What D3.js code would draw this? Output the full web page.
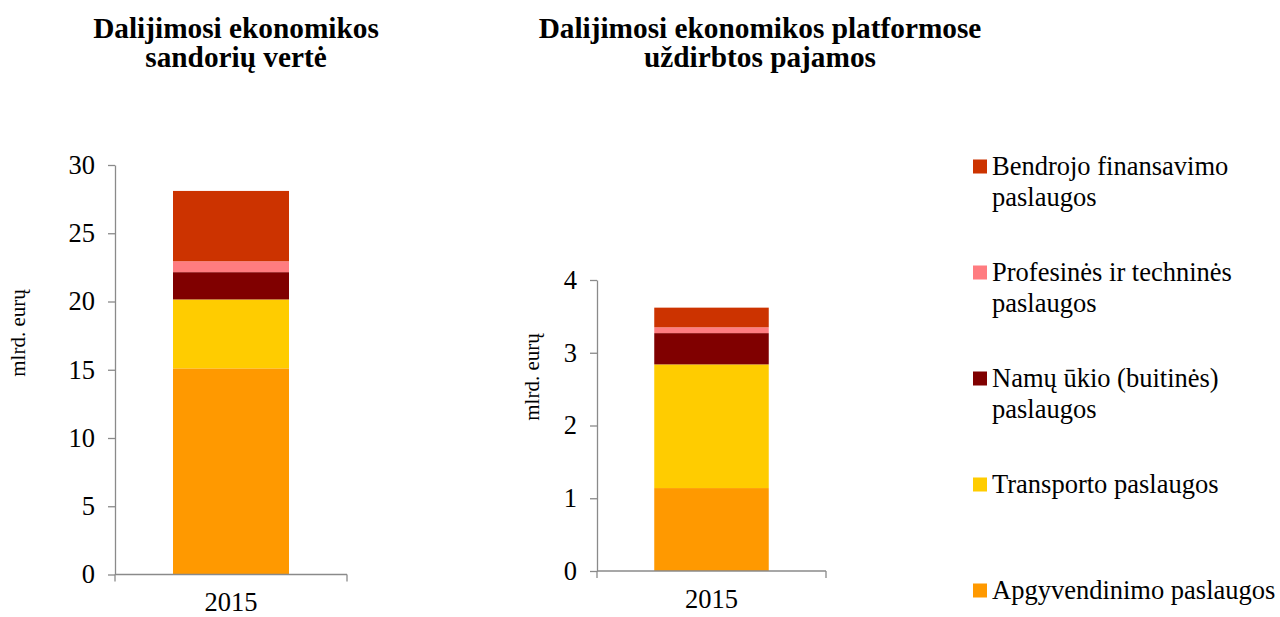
<!DOCTYPE html>
<html>
<head>
<meta charset="utf-8">
<script src="https://cdn.jsdelivr.net/npm/d3@7"></script>
</head>
<body style="margin:0;background:#ffffff">
<svg id="chart" width="1280" height="617" font-family="Liberation Serif, serif"></svg>
<script>
// ---- Data ----
const categories = ["2015"];
const seriesKeys = ["apg", "tra", "nam", "pro", "ben"];
const seriesNames = [
  "Apgyvendinimo paslaugos",
  "Transporto paslaugos",
  "Namų ūkio (buitinės) paslaugos",
  "Profesinės ir techninės paslaugos",
  "Bendrojo finansavimo paslaugos"
];
const legendLines = [
  ["Apgyvendinimo paslaugos"],
  ["Transporto paslaugos"],
  ["Namų ūkio (buitinės)", "paslaugos"],
  ["Profesinės ir techninės", "paslaugos"],
  ["Bendrojo finansavimo", "paslaugos"]
];
const seriesColors = ["#FF9900", "#FFCC00", "#800000", "#FF7C80", "#CC3300"];
// mlrd. eurų, 2015
const transactionValues = [15.1, 5.05, 2.0, 0.8, 5.15];
const revenueValues = [1.14, 1.70, 0.43, 0.08, 0.27];
const transactionTicks = [0, 5, 10, 15, 20, 25, 30];
const revenueTicks = [0, 1, 2, 3, 4];
const titleLeft = ["Dalijimosi ekonomikos", "sandorių vertė"];
const titleRight = ["Dalijimosi ekonomikos platformose", "uždirbtos pajamos"];
const yLabel = "mlrd. eurų";

// ---- Drawing ----
const FONT = '"Liberation Serif", serif';
const svg = d3.select("#chart");
const axisColor = "#8a8a8a";

function panel(opts) {
  const g = svg.append("g");
  const row = {};
  seriesKeys.forEach((k, i) => row[k] = opts.values[i]);
  row.cat = categories[0];
  const stacked = d3.stack().keys(seriesKeys)([row]);

  const x = d3.scaleBand().domain(categories).range([opts.x0, opts.x1])
    .paddingInner(0.5).paddingOuter(0.25);
  const y = d3.scaleLinear().domain(opts.domain).range([opts.yBottom, opts.yTop]);

  // bars
  g.selectAll("g.series").data(stacked).join("g")
    .attr("fill", (d, i) => seriesColors[i])
    .selectAll("rect").data(d => d).join("rect")
    .attr("x", d => x(d.data.cat))
    .attr("width", x.bandwidth())
    .attr("y", d => y(d[1]))
    .attr("height", d => y(d[0]) - y(d[1]));

  // y axis
  const ya = g.append("g").attr("transform", `translate(${opts.x0},0)`)
    .call(d3.axisLeft(y).tickValues(opts.ticks).tickSize(7).tickSizeOuter(0).tickPadding(13)
      .tickFormat(d3.format("d")));
  ya.attr("font-family", "Liberation Serif, serif").attr("font-size", 26.5);
  ya.select(".domain").attr("stroke", axisColor).attr("stroke-width", 1.3);
  ya.selectAll(".tick line").attr("stroke", axisColor).attr("stroke-width", 1.3);
  ya.selectAll(".tick text").attr("fill", "#000").style("font-size", "26.5px")
    .style("font-family", FONT);

  // x axis (category boundary ticks, outside)
  const xa = g.append("g").attr("transform", `translate(0,${opts.yBottom})`);
  xa.append("line").attr("x1", opts.x0).attr("x2", opts.x1).attr("y1", 0).attr("y2", 0)
    .attr("stroke", axisColor).attr("stroke-width", 1.3);
  [opts.x0, opts.x1].forEach(px => {
    xa.append("line").attr("x1", px).attr("x2", px).attr("y1", 0).attr("y2", 7)
      .attr("stroke", axisColor).attr("stroke-width", 1.3);
  });
  xa.selectAll("text.cat").data(categories).join("text").attr("class", "cat")
    .attr("x", d => x(d) + x.bandwidth() / 2)
    .attr("y", 36.5)
    .attr("text-anchor", "middle")
    .style("font-size", "26.5px").style("font-family", FONT)
    .text(d => d);

  // y label
  g.append("text")
    .attr("transform", `translate(${opts.labelX},${opts.labelY}) rotate(-90)`)
    .attr("text-anchor", "middle")
    .style("font-size", "21px").style("font-family", FONT)
    .text(yLabel);

  // title
  const t = g.append("text").attr("text-anchor", "middle")
    .style("font-size", "29.3px").style("font-weight", "bold").style("font-family", FONT);
  opts.title.forEach((line, i) => {
    t.append("tspan").attr("x", opts.titleX).attr("y", 38 + i * 29).text(line);
  });
}

panel({
  values: transactionValues, domain: [0, 30], ticks: transactionTicks,
  x0: 115, x1: 347, yBottom: 574.5, yTop: 165,
  labelX: 25, labelY: 333, title: titleLeft, titleX: 236
});
panel({
  values: revenueValues, domain: [0, 4], ticks: revenueTicks,
  x0: 597, x1: 826, yBottom: 571, yTop: 280,
  labelX: 539, labelY: 377, title: titleRight, titleX: 760
});

// legend (top-to-bottom in reverse stack order)
const legendOrder = d3.range(seriesKeys.length).reverse();
const lg = svg.append("g");
const items = lg.selectAll("g.item").data(legendOrder).join("g")
  .attr("transform", (d, i) => `translate(973,${175 + i * 106})`);
items.append("rect").attr("x", 0).attr("y", -15.5).attr("width", 14).attr("height", 14)
  .attr("fill", d => seriesColors[d]);
items.append("text").style("font-size", "26.5px").style("font-family", FONT)
  .each(function(d) {
    const el = d3.select(this);
    legendLines[d].forEach((line, j) => {
      el.append("tspan").attr("x", 19).attr("y", j * 31).text(line);
    });
  });
</script>
</body>
</html>
